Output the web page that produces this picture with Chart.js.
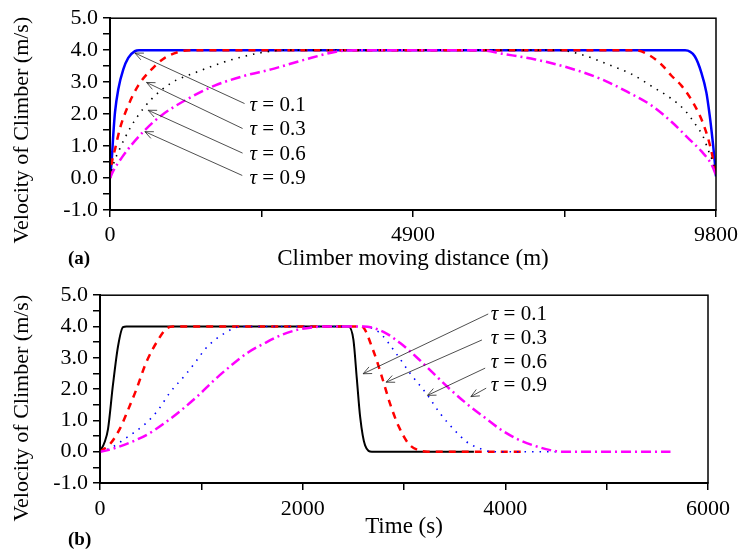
<!DOCTYPE html>
<html>
<head>
<meta charset="utf-8">
<script src="https://cdn.jsdelivr.net/npm/chart.js@4.4.0/dist/chart.umd.min.js"></script>
<style>
  html, body { margin: 0; padding: 0; background: #fff; }
  .panel { position: relative; width: 743px; height: 277px; }
</style>
</head>
<body>
<div class="panel"><canvas id="chart-a"></canvas></div>
<div class="panel"><canvas id="chart-b"></canvas></div>
<script>
// Panel (a): velocity vs moving distance
const distTau01 = [0, 27, 53, 81, 134, 215, 295, 403, 470, 9300, 9456, 9563, 9644, 9698, 9741, 9779, 9800];
const velTau01  = [0, 0.53, 1.35, 2.06, 2.78, 3.40, 3.76, 3.97, 4.0, 4.0, 3.81, 3.30, 2.68, 1.96, 1.25, 0.53, 0.05];

const distTau03 = [0, 27, 81, 161, 295, 456, 672, 887, 1156, 1300, 8490, 8704, 8919, 9080, 9241, 9376, 9510, 9591, 9671, 9725, 9768, 9800];
const velTau03  = [0, 0.45, 0.9, 1.55, 2.27, 2.89, 3.40, 3.76, 3.97, 4.0, 4.0, 3.86, 3.55, 3.20, 2.89, 2.53, 2.07, 1.71, 1.25, 0.84, 0.43, 0.1];

const distTau06 = [0, 53, 161, 322, 456, 672, 995, 1370, 1800, 2176, 2606, 2850, 7250, 7629, 8059, 8435, 8785, 9080, 9295, 9456, 9591, 9671, 9752, 9800];
const velTau06  = [0, 0.42, 0.93, 1.55, 1.96, 2.47, 2.98, 3.29, 3.60, 3.81, 3.97, 4.0, 4.0, 3.86, 3.55, 3.25, 2.84, 2.48, 2.12, 1.71, 1.30, 0.89, 0.48, 0.1];

const distTau09 = [0, 53, 188, 349, 564, 832, 1262, 1692, 2176, 2606, 3144, 3682, 3950, 6000, 6340, 6878, 7415, 7952, 8382, 8757, 9080, 9349, 9563, 9725, 9800];
const velTau09  = [0, 0.22, 0.63, 1.04, 1.50, 1.96, 2.48, 2.89, 3.20, 3.40, 3.70, 3.96, 4.0, 4.0, 3.89, 3.71, 3.45, 3.09, 2.68, 2.27, 1.76, 1.25, 0.84, 0.43, 0.1];

// Panel (b): velocity vs time
const timeTau01 = [0, 46, 79, 128, 178, 227, 260, 2452, 2501, 2534, 2567, 2616, 2683, 3690];
const vtTau01   = [0, 0.31, 0.72, 2.14, 3.37, 3.98, 4.0, 4.0, 3.57, 2.35, 1.12, 0.2, 0, 0];

const timeTau03 = [0, 100, 194, 276, 359, 457, 573, 655, 720, 2580, 2699, 2781, 2863, 2946, 3044, 3143, 3230, 4190];
const vtTau03   = [0, 0.25, 0.72, 1.33, 1.99, 2.86, 3.57, 3.93, 4.0, 4.0, 3.21, 2.40, 1.53, 0.82, 0.26, 0.05, 0, 0];

const timeTau06 = [0, 96, 244, 457, 573, 688, 852, 951, 1033, 1132, 1247, 1330, 1400, 2560, 2748, 2929, 3061, 3225, 3357, 3489, 3620, 3752, 3870, 4520];
const vtTau06   = [0, 0.1, 0.41, 0.92, 1.33, 1.88, 2.49, 2.90, 3.26, 3.57, 3.82, 3.96, 4.0, 4.0, 3.83, 3.11, 2.50, 1.84, 1.22, 0.72, 0.31, 0.10, 0, 0];

const timeTau09 = [0, 79, 178, 309, 474, 639, 803, 968, 1132, 1297, 1461, 1626, 1790, 1955, 2120, 2220, 2600, 2797, 2962, 3127, 3291, 3456, 3620, 3785, 3949, 4114, 4279, 4443, 4560, 5630];
const vtTau09   = [0, 0.05, 0.15, 0.31, 0.56, 0.92, 1.33, 1.79, 2.30, 2.76, 3.17, 3.47, 3.73, 3.90, 3.98, 4.0, 4.0, 3.83, 3.47, 3.01, 2.50, 1.99, 1.53, 1.12, 0.72, 0.41, 0.20, 0.05, 0, 0];

const tauValues = ['0.1', '0.3', '0.6', '0.9'];

// Annotation arrows, in data units
const arrowsA = {
    fromX: [2176, 2144, 2144, 2139], fromY: [2.33, 1.55, 0.78, 0.08],
    toX: [403, 591, 617, 564], toY: [3.91, 2.99, 2.12, 1.45],
    labelX: 2257, labelY: [2.28, 1.51, 0.74, 0.0]
};
const arrowsB = {
    fromX: [3831, 3769, 3801, 3811], fromY: [4.40, 3.57, 2.67, 2.03],
    toX: [2597, 2824, 3232, 3660], toY: [2.49, 2.22, 1.80, 1.76],
    labelX: 3857, labelY: [4.37, 3.63, 2.86, 2.13]
};

const SERIF = '"Liberation Serif", "DejaVu Serif", serif';

function toPoints(xs, ys) {
    return xs.map((x, i) => ({ x: x, y: ys[i] }));
}

function drawArrow(ctx, x1, y1, x2, y2) {
    ctx.beginPath();
    ctx.moveTo(x1, y1);
    ctx.lineTo(x2, y2);
    ctx.stroke();
    const ang = Math.atan2(y2 - y1, x2 - x1);
    const len = 9, spread = 0.42;
    ctx.beginPath();
    ctx.moveTo(x2 - len * Math.cos(ang - spread), y2 - len * Math.sin(ang - spread));
    ctx.lineTo(x2, y2);
    ctx.lineTo(x2 - len * Math.cos(ang + spread), y2 - len * Math.sin(ang + spread));
    ctx.stroke();
}

// Frame, y title, panel tag and tau arrows
const panelDecor = {
    id: 'panelDecor',
    afterDraw(chart, args, opts) {
        const ctx = chart.ctx;
        const area = chart.chartArea;
        const xs = chart.scales.x, ys = chart.scales.y;
        ctx.save();

        ctx.strokeStyle = '#000';
        ctx.lineWidth = 1.5;
        ctx.strokeRect(area.left, area.top, area.right - area.left, area.bottom - area.top);

        // y title
        ctx.fillStyle = '#000';
        ctx.font = '22px ' + SERIF;
        ctx.textAlign = 'center';
        ctx.textBaseline = 'middle';
        ctx.save();
        ctx.translate(opts.yTitleX, (area.top + area.bottom) / 2 + opts.yTitleShift);
        ctx.rotate(-Math.PI / 2);
        ctx.fillText('Velocity of Climber (m/s)', 0, 0);
        ctx.restore();

        // panel tag
        ctx.font = 'bold 19px ' + SERIF;
        ctx.textAlign = 'left';
        ctx.fillText(opts.tag, 68, opts.tagY);

        // arrows
        const a = opts.arrows;
        ctx.strokeStyle = '#222';
        ctx.lineWidth = 0.8;
        for (let i = 0; i < tauValues.length; i++) {
            drawArrow(ctx,
                xs.getPixelForValue(a.fromX[i]), ys.getPixelForValue(a.fromY[i]),
                xs.getPixelForValue(a.toX[i]), ys.getPixelForValue(a.toY[i]));
            const lx = xs.getPixelForValue(a.labelX);
            const ly = ys.getPixelForValue(a.labelY[i]);
            ctx.font = 'italic 21px ' + SERIF;
            ctx.fillText('\u03c4', lx, ly);
            const w = ctx.measureText('\u03c4').width;
            ctx.font = '21px ' + SERIF;
            ctx.fillText(' = ' + tauValues[i], lx + w, ly);
        }
        ctx.restore();
    }
};

function lineSet(points, color, width, dash, order) {
    return {
        data: points,
        borderColor: color,
        borderWidth: width,
        borderDash: dash,
        pointRadius: 0,
        fill: false,
        cubicInterpolationMode: 'monotone',
        order: order
    };
}

function axisStyle() {
    return {
        grid: { display: true, drawOnChartArea: false, drawTicks: true, tickLength: 7, color: '#000', lineWidth: 1.5 },
        border: { display: true, color: '#000', width: 2 }
    };
}

function makeChart(canvasId, cfg) {
    const yAxis = Object.assign(axisStyle(), {
        min: -1, max: 5,
        ticks: {
            stepSize: 0.5, autoSkip: false, padding: 5, color: '#000',
            font: { family: SERIF, size: 22 },
            callback: v => (Math.abs(v - Math.round(v)) < 1e-6 ? v.toFixed(1) : '')
        },
        afterFit: s => { s.width = cfg.yWidth; }
    });
    const xAxis = Object.assign(axisStyle(), {
        type: 'linear', min: 0, max: cfg.xMax,
        ticks: {
            stepSize: cfg.xStep, autoSkip: false, padding: cfg.xTickPad, color: '#000', maxRotation: 0,
            font: { family: SERIF, size: 22 },
            callback: v => (v % cfg.xLabelEvery === 0 ? String(v) : '')
        },
        title: {
            display: true, text: cfg.xTitle, color: '#000',
            font: { family: SERIF, size: 23 },
            padding: { top: 0, bottom: cfg.xTitlePad }
        },
        afterFit: s => { s.height = cfg.xHeight; }
    });

    return new Chart(document.getElementById(canvasId), {
        type: 'line',
        data: { datasets: cfg.datasets },
        options: {
            responsive: true,
            maintainAspectRatio: false,
            animation: false,
            layout: { padding: cfg.padding },
            plugins: {
                legend: { display: false },
                tooltip: { enabled: false },
                panelDecor: cfg.decor
            },
            scales: { x: xAxis, y: yAxis }
        },
        plugins: [panelDecor]
    });
}

makeChart('chart-a', {
    xMax: 9800, xStep: 2450, xLabelEvery: 4900,
    xTitle: 'Climber moving distance (m)',
    yWidth: 110, xHeight: 67, xTickPad: 5, xTitlePad: 4,
    padding: { left: 0, right: 25, top: 15, bottom: 0 },
    decor: { tag: '(a)', tagY: 259, yTitleX: 22, yTitleShift: 16, arrows: arrowsA },
    datasets: [
        lineSet(toPoints(distTau01, velTau01), '#0000ff', 2.5, [], 4),
        lineSet(toPoints(distTau03, velTau03), '#ff0000', 2.5, [7, 6], 3),
        lineSet(toPoints(distTau06, velTau06), '#000000', 1.6, [1.5, 6], 2),
        lineSet(toPoints(distTau09, velTau09), '#ff00ff', 2.5, [10, 4, 2, 4], 1)
    ]
});

makeChart('chart-b', {
    xMax: 6000, xStep: 1000, xLabelEvery: 2000,
    xTitle: 'Time (s)',
    yWidth: 100, xHeight: 71, xTickPad: 6, xTitlePad: 13,
    padding: { left: 0, right: 35, top: 11, bottom: 0 },
    decor: { tag: '(b)', tagY: 263, yTitleX: 22, yTitleShift: 19, arrows: arrowsB },
    datasets: [
        lineSet(toPoints(timeTau01, vtTau01), '#000000', 2, [], 4),
        lineSet(toPoints(timeTau03, vtTau03), '#ff0000', 2.5, [7, 6], 3),
        lineSet(toPoints(timeTau06, vtTau06), '#0000ff', 1.6, [1.5, 6], 2),
        lineSet(toPoints(timeTau09, vtTau09), '#ff00ff', 2.5, [10, 4, 2, 4], 1)
    ]
});
</script>
</body>
</html>
